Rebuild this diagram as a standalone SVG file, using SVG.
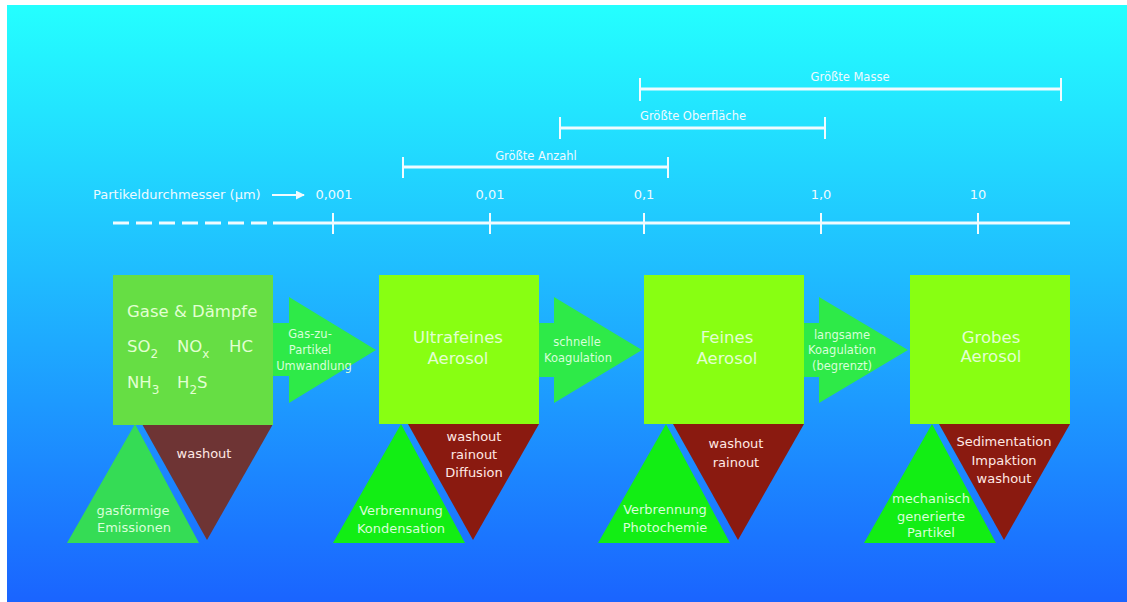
<svg xmlns="http://www.w3.org/2000/svg" width="1127" height="602" viewBox="0 0 1127 602">
<defs>
<linearGradient id="bg" x1="0" y1="0" x2="0" y2="1">
<stop offset="0" stop-color="#24ffff"/>
<stop offset="0.45" stop-color="#1fbcff"/>
<stop offset="1" stop-color="#1a64ff"/>
</linearGradient>
<marker id="ah" viewBox="0 0 10 10" refX="9" refY="5" markerWidth="4.5" markerHeight="4.5" orient="auto" markerUnits="strokeWidth">
<path d="M0,0 L10,5 L0,10 z" fill="#f0fbff"/>
</marker>
<style>
text{font-family:"DejaVu Sans","Verdana",sans-serif}
.ax{stroke:#f0fbff;stroke-width:3;fill:none}
.tk{stroke:#f0fbff;stroke-width:2;fill:none}
.axt{fill:#eefaff;font-size:13px}
.rt{fill:#eefaff;font-size:11.5px;text-anchor:middle}
.box1{fill:#66de44}
.box{fill:#88ff12}
.arr{fill:#2eea48}
.gt1{fill:#35dc55}
.gt{fill:#12ee14}
.bt1{fill:#6e3434}
.bt{fill:#8a1a10}
.bx{fill:#e2ffd2;font-size:16.5px;text-anchor:middle}
.bx1{fill:#e2ffd2;font-size:16.5px}
.sub{font-size:12px}
.at{fill:#d8ffd8;font-size:11.5px;text-anchor:middle}
.tb{fill:#ffe8e4;font-size:13px;text-anchor:middle}
.tg{fill:#d8ffd8;font-size:13px;text-anchor:middle}
</style>
</defs>
<rect x="0" y="0" width="1127" height="602" fill="#ffffff"/>
<rect x="7" y="5" width="1120" height="597" fill="url(#bg)"/>

<g id="scale">
<line class="ax" x1="113" y1="223" x2="267" y2="223" stroke-dasharray="16 7"/>
<line class="ax" x1="273" y1="223" x2="1070" y2="223"/>
<line class="tk" x1="333" y1="213" x2="333" y2="234"/>
<line class="tk" x1="490" y1="213" x2="490" y2="234"/>
<line class="tk" x1="644" y1="213" x2="644" y2="234"/>
<line class="tk" x1="821" y1="213" x2="821" y2="234"/>
<line class="tk" x1="978" y1="213" x2="978" y2="234"/>
<text class="axt" x="93" y="199">Partikeldurchmesser (µm)</text>
<line x1="272" y1="195" x2="304" y2="195" stroke="#f0fbff" stroke-width="2" marker-end="url(#ah)"/>
<text class="axt" x="334" y="199" text-anchor="middle">0,001</text>
<text class="axt" x="490" y="199" text-anchor="middle">0,01</text>
<text class="axt" x="644" y="199" text-anchor="middle">0,1</text>
<text class="axt" x="821" y="199" text-anchor="middle">1,0</text>
<text class="axt" x="978" y="199" text-anchor="middle">10</text>
</g>

<g id="range-anzahl">
<line class="ax" x1="403" y1="167" x2="668" y2="167"/>
<line class="tk" x1="403" y1="157" x2="403" y2="178"/>
<line class="tk" x1="668" y1="157" x2="668" y2="178"/>
<text class="rt" x="536" y="160">Größte Anzahl</text>
</g>
<g id="range-oberflaeche">
<line class="ax" x1="560" y1="128" x2="825" y2="128"/>
<line class="tk" x1="560" y1="117" x2="560" y2="139"/>
<line class="tk" x1="825" y1="117" x2="825" y2="139"/>
<text class="rt" x="693" y="120">Größte Oberfläche</text>
</g>
<g id="range-masse">
<line class="ax" x1="640" y1="89" x2="1061" y2="89"/>
<line class="tk" x1="640" y1="78" x2="640" y2="101"/>
<line class="tk" x1="1061" y1="78" x2="1061" y2="101"/>
<text class="rt" x="850" y="81">Größte Masse</text>
</g>

<g id="connectors">
<g id="arrow1">
<polygon class="arr" points="273,323 289,323 289,297 376,350 289,403 289,376 273,376"/>
<text class="at" x="310" y="338">Gas-zu-</text>
<text class="at" x="310" y="354">Partikel</text>
<text class="at" x="314" y="370">Umwandlung</text>
</g>
<g id="arrow2">
<polygon class="arr" points="539,323 554,323 554,297 642,350 554,403 554,377 539,377"/>
<text class="at" x="577" y="346">schnelle</text>
<text class="at" x="578" y="362">Koagulation</text>
</g>
<g id="arrow3">
<polygon class="arr" points="804,323 819,323 819,297 908,350 819,403 819,377 804,377"/>
<text class="at" x="842" y="339">langsame</text>
<text class="at" x="842" y="354">Koagulation</text>
<text class="at" x="842" y="370">(begrenzt)</text>
</g>
</g>

<g id="gase">
<polygon class="gt1" points="135,424 67,543 199,543"/>
<polygon class="bt1" points="142,424 273,424 207,540"/>
<rect class="box1" x="113" y="275" width="160" height="150"/>
<text class="bx1" x="127" y="317">Gase &amp; Dämpfe</text>
<text class="bx1" x="127" y="352">SO<tspan class="sub" dy="6">2</tspan></text>
<text class="bx1" x="177" y="352">NO<tspan class="sub" dy="6">x</tspan></text>
<text class="bx1" x="229" y="352">HC</text>
<text class="bx1" x="127" y="388">NH<tspan class="sub" dy="6">3</tspan></text>
<text class="bx1" x="177" y="388">H<tspan class="sub" dy="6">2</tspan><tspan dy="-6">S</tspan></text>
<text class="tb" x="204" y="458">washout</text>
<text class="tg" x="133" y="515">gasförmige</text>
<text class="tg" x="134" y="532">Emissionen</text>
</g>

<g id="ultrafein">
<polygon class="gt" points="401,424 333,543 465,543"/>
<polygon class="bt" points="408,424 539,424 473,540"/>
<rect class="box" x="379" y="275" width="160" height="149"/>
<text class="bx" x="458" y="343">Ultrafeines</text>
<text class="bx" x="458" y="364">Aerosol</text>
<text class="tb" x="474" y="441">washout</text>
<text class="tb" x="474" y="459">rainout</text>
<text class="tb" x="474" y="477">Diffusion</text>
<text class="tg" x="401" y="515">Verbrennung</text>
<text class="tg" x="401" y="533">Kondensation</text>
</g>

<g id="fein">
<polygon class="gt" points="666,424 598,543 730,543"/>
<polygon class="bt" points="673,424 804,424 738,540"/>
<rect class="box" x="644" y="275" width="160" height="149"/>
<text class="bx" x="727" y="343">Feines</text>
<text class="bx" x="727" y="364">Aerosol</text>
<text class="tb" x="736" y="448">washout</text>
<text class="tb" x="736" y="467">rainout</text>
<text class="tg" x="665" y="514">Verbrennung</text>
<text class="tg" x="665" y="532">Photochemie</text>
</g>

<g id="grob">
<polygon class="gt" points="932,424 864,543 996,543"/>
<polygon class="bt" points="939,424 1070,424 1004,540"/>
<rect class="box" x="910" y="275" width="160" height="149"/>
<text class="bx" x="991" y="343">Grobes</text>
<text class="bx" x="991" y="362">Aerosol</text>
<text class="tb" x="1004" y="446">Sedimentation</text>
<text class="tb" x="1004" y="465">Impaktion</text>
<text class="tb" x="1004" y="483">washout</text>
<text class="tg" x="931" y="503">mechanisch</text>
<text class="tg" x="931" y="521">generierte</text>
<text class="tg" x="931" y="537">Partikel</text>
</g>
</svg>
